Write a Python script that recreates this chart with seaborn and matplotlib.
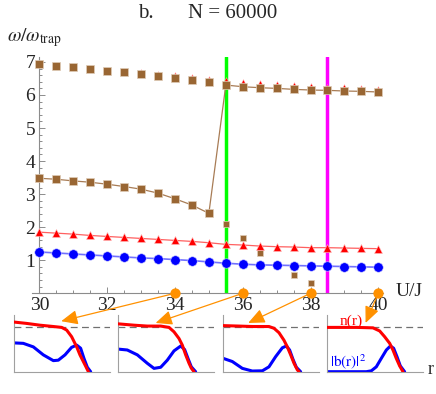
import numpy as np
import pandas as pd
import matplotlib
matplotlib.use("Agg")
import matplotlib.pyplot as plt
import seaborn as sns
from matplotlib.patches import ConnectionPatch

# ------------------------------------------------------------
# DATA
# ------------------------------------------------------------

U_J = [30.0, 30.5, 31.0, 31.5, 32.0, 32.5, 33.0, 33.5, 34.0, 34.5, 35.0,
       35.5, 36.0, 36.5, 37.0, 37.5, 38.0, 38.5, 39.0, 39.5, 40.0]

blue_mode = [1.25, 1.22, 1.19, 1.16, 1.13, 1.10, 1.07, 1.05, 1.02, 0.99, 0.95,
             0.91, 0.88, 0.86, 0.85, 0.84, 0.83, 0.82, 0.81, 0.80, 0.79]

red_mode = [1.85, 1.82, 1.79, 1.75, 1.72, 1.69, 1.66, 1.63, 1.60, 1.57, 1.53,
            1.48, 1.46, 1.43, 1.41, 1.40, 1.38, 1.38, 1.37, 1.36, 1.35]

# brown mode followed by the joined line (jumps at the transition)
brown_main = [3.48, 3.45, 3.40, 3.36, 3.30, 3.23, 3.15, 3.03, 2.86, 2.67, 2.42,
              6.30, 6.25, 6.22, 6.20, 6.17, 6.15, 6.14, 6.12, 6.11, 6.09]

U_UPPER = [30.0, 30.5, 31.0, 31.5, 32.0, 32.5, 33.0, 33.5, 34.0, 34.5, 35.0]
brown_upper = [6.93, 6.89, 6.85, 6.79, 6.74, 6.70, 6.64, 6.58, 6.51, 6.45, 6.38]

U_RED_UP = [33.0, 33.5, 34.0, 34.5, 35.0, 35.5, 36.0, 36.5, 37.0, 37.5,
            38.0, 38.5, 39.0, 39.5, 40.0]
red_upper = [6.69, 6.64, 6.60, 6.53, 6.49, 6.45, 6.39, 6.35, 6.32, 6.30,
             6.28, 6.25, 6.24, 6.21, 6.19]

U_LOWER = [35.5, 36.0, 36.5, 37.5, 38.0]
brown_lower = [2.10, 1.66, 1.22, 0.55, 0.30]

TRANSITIONS = [35.5, 38.5]
SNAP_U = [34, 36, 38, 40]

# density profiles n(r) and |b(r)|^2 for the four snapshots
n_r = [
    [0, 0.129, 0.268, 0.408, 0.495, 0.547, 0.599, 0.652, 0.686, 0.721, 0.749, 0.774],
    [0, 0.164, 0.303, 0.443, 0.53, 0.582, 0.634, 0.669, 0.704, 0.739, 0.763, 0.791],
    [0, 0.164, 0.303, 0.477, 0.53, 0.582, 0.634, 0.669, 0.704, 0.739, 0.774, 0.791],
    [0, 0.157, 0.307, 0.477, 0.547, 0.599, 0.652, 0.686, 0.721, 0.756, 0.791],
]
n_val = [
    [1.12, 1.09, 1.05, 1.02, 1.00, 0.94, 0.79, 0.56, 0.38, 0.23, 0.11, 0.0],
    [1.08, 1.05, 1.03, 1.03, 1.00, 0.90, 0.75, 0.60, 0.38, 0.19, 0.08, 0.0],
    [1.04, 1.03, 1.02, 1.02, 0.98, 0.88, 0.71, 0.56, 0.38, 0.19, 0.04, 0.0],
    [1.00, 1.00, 1.00, 0.99, 0.92, 0.79, 0.64, 0.49, 0.30, 0.13, 0.0],
]
b_r = [
    [0, 0.094, 0.199, 0.303, 0.408, 0.46, 0.53, 0.599, 0.652, 0.693, 0.728, 0.763, 0.798],
    [0, 0.094, 0.199, 0.303, 0.373, 0.443, 0.512, 0.582, 0.652, 0.693, 0.728, 0.763, 0.808],
    [0, 0.094, 0.199, 0.303, 0.408, 0.477, 0.547, 0.617, 0.659, 0.693, 0.728, 0.763, 0.808],
    [0, 0.408, 0.46, 0.512, 0.564, 0.617, 0.659, 0.693, 0.728, 0.763, 0.808],
]
b_val = [
    [0.65, 0.64, 0.56, 0.38, 0.25, 0.26, 0.38, 0.55, 0.60, 0.53, 0.30, 0.10, 0.0],
    [0.51, 0.49, 0.38, 0.19, 0.075, 0.10, 0.26, 0.47, 0.58, 0.50, 0.30, 0.11, 0.0],
    [0.30, 0.23, 0.075, 0.015, 0.02, 0.11, 0.34, 0.54, 0.58, 0.49, 0.28, 0.10, 0.0],
    [0.0, 0.0, 0.02, 0.11, 0.30, 0.49, 0.58, 0.53, 0.34, 0.13, 0.0],
]

# arrow tips inside the insets (inset data coords)
TIP_R = [0.49, 0.39, 0.26, 0.40]
TIP_V = [1.14, 1.10, 1.10, 1.10]

# ------------------------------------------------------------
# STYLE
# ------------------------------------------------------------

sns.set_style("ticks")
plt.rcParams["font.family"] = ["Liberation Serif", "DejaVu Serif"]
plt.rcParams["mathtext.fontset"] = "stix"

BROWN = "#996633"
ORANGE = "#ff9100"
AXIS_GRAY = "#8c8c8c"

W, H = 436, 394
fig = plt.figure(figsize=(W / 100, H / 100), dpi=100)

# ------------------------------------------------------------
# MAIN PANEL
# ------------------------------------------------------------

ax = fig.add_axes([32.3 / W, 100.7 / H, 351.1 / W, 236.0 / H])
ax.set_facecolor("none")

for xv, c in zip(TRANSITIONS, ["#00ff00", "#ff00ff"]):
    ax.axvline(xv, color=c, lw=2.5, zorder=1)

sns.lineplot(x=U_J, y=blue_mode, ax=ax, color="#7070ff", lw=1.2,
             marker="o", markersize=6.8, markerfacecolor="#0000ff",
             markeredgecolor="#c8c8ff", markeredgewidth=0.4, zorder=4)
sns.lineplot(x=U_J, y=red_mode, ax=ax, color="#ff6060", lw=0.9,
             marker="^", markersize=6.4, markerfacecolor="#ff0000",
             markeredgecolor="#ffc0c0", markeredgewidth=0.4, zorder=4)
sns.lineplot(x=U_J, y=brown_main, ax=ax, color="#a87c55", lw=0.9,
             marker="s", markersize=6.0, markerfacecolor=BROWN,
             markeredgecolor="#e0cdb8", markeredgewidth=0.5, zorder=5)

sns.scatterplot(x=U_RED_UP, y=red_upper, ax=ax, color="#ff0000", marker="^",
                s=4.2 ** 2, linewidth=0.3, edgecolor="#ffc0c0", zorder=3)
sns.scatterplot(x=U_UPPER, y=brown_upper, ax=ax, color=BROWN, marker="s",
                s=5.4 ** 2, linewidth=0.5, edgecolor="#e0cdb8", zorder=5)
sns.scatterplot(x=U_LOWER, y=brown_lower, ax=ax, color=BROWN, marker="s",
                s=4.3 ** 2, linewidth=0.5, edgecolor="#e0cdb8", zorder=3)

ax.set_xlim(29.79, 40.15)
ax.set_ylim(0, 7.14)

for side in ["top", "right"]:
    ax.spines[side].set_visible(False)
ax.spines["left"].set_position(("data", 30))
ax.spines["bottom"].set_position(("data", 0))
for side in ["left", "bottom"]:
    ax.spines[side].set_color(AXIS_GRAY)
    ax.spines[side].set_linewidth(0.8)

ax.set_xticks([30, 32, 34, 36, 38, 40])
ax.set_xticks(np.arange(30, 40.01, 0.5), minor=True)
ax.set_yticks([1, 2, 3, 4, 5, 6, 7])
ax.set_yticks(np.arange(0.2, 7.01, 0.2), minor=True)
ax.tick_params(which="both", direction="in", color=AXIS_GRAY, width=0.7,
               labelsize=14)
ax.tick_params(which="major", length=4.5)
ax.tick_params(which="minor", length=2.5)
ax.tick_params(axis="x", pad=3)
ax.tick_params(axis="y", pad=3)

# snapshot markers on the U/J axis
sns.scatterplot(x=SNAP_U, y=[0, 0, 0, 0], ax=ax, color=ORANGE, s=7.4 ** 2,
                linewidth=0, zorder=10, clip_on=False)

fig.text(396 / W, 1 - 291 / H, "U/J", fontsize=14, ha="left", va="center")
fig.text(7 / W, 1 - 38 / H, r"$\omega/\omega_{\mathrm{trap}}$",
         fontsize=14, ha="left", va="center")
fig.text(138 / W, 1 - 14 / H, "b.", fontsize=15, ha="left", va="center")
fig.text(277 / W, 1 - 14 / H, "N = 60000", fontsize=15, ha="right", va="center")

# ------------------------------------------------------------
# INSETS
# ------------------------------------------------------------

inset_left = [14.3, 118.3, 223.3, 327.3]
insets = []
for i, lx in enumerate(inset_left):
    ia = fig.add_axes([lx / W, 22.3 / H, 95.7 / W, 56.7 / H])
    ia.set_facecolor("none")
    ia.axhline(1.0, color="#707070", lw=0.9, dashes=(5.5, 3.5), zorder=1)
    sns.lineplot(x=n_r[i], y=n_val[i], ax=ia, color="#ff0000", lw=2.2,
                 sort=False, zorder=3)
    sns.lineplot(x=b_r[i], y=b_val[i], ax=ia, color="#0000ff", lw=2.2,
                 sort=False, zorder=2)
    ia.set_xlim(0, 1)
    ia.set_ylim(0, 1.28)
    ia.set_xticks([])
    ia.set_yticks([])
    ia.set_xlabel("")
    ia.set_ylabel("")
    for side in ["top", "right"]:
        ia.spines[side].set_visible(False)
    for side in ["left", "bottom"]:
        ia.spines[side].set_color("#a0a0a0")
        ia.spines[side].set_linewidth(0.8)
    insets.append(ia)

insets[3].text(0.25, 1.13, "n(r)", color="#ff0000", fontsize=11,
               ha="center", va="center")
insets[3].text(0.22, 0.24, r"$|\mathrm{b(r)}|^{2}$", color="#0000ff",
               fontsize=11, ha="center", va="center")
insets[3].text(1.05, 0.04, "r", fontsize=13, ha="left", va="center",
               clip_on=False)

# arrows from the snapshot points to the insets
for i, u in enumerate(SNAP_U):
    con = ConnectionPatch(xyA=(u, 0), coordsA=ax.transData,
                          xyB=(TIP_R[i], TIP_V[i]), coordsB=insets[i].transData,
                          arrowstyle="-|>,head_length=0.5,head_width=0.22",
                          mutation_scale=20, color=ORANGE, lw=0.9,
                          shrinkA=0, shrinkB=0)
    fig.add_artist(con)

fig.savefig("out.png", dpi=100)
